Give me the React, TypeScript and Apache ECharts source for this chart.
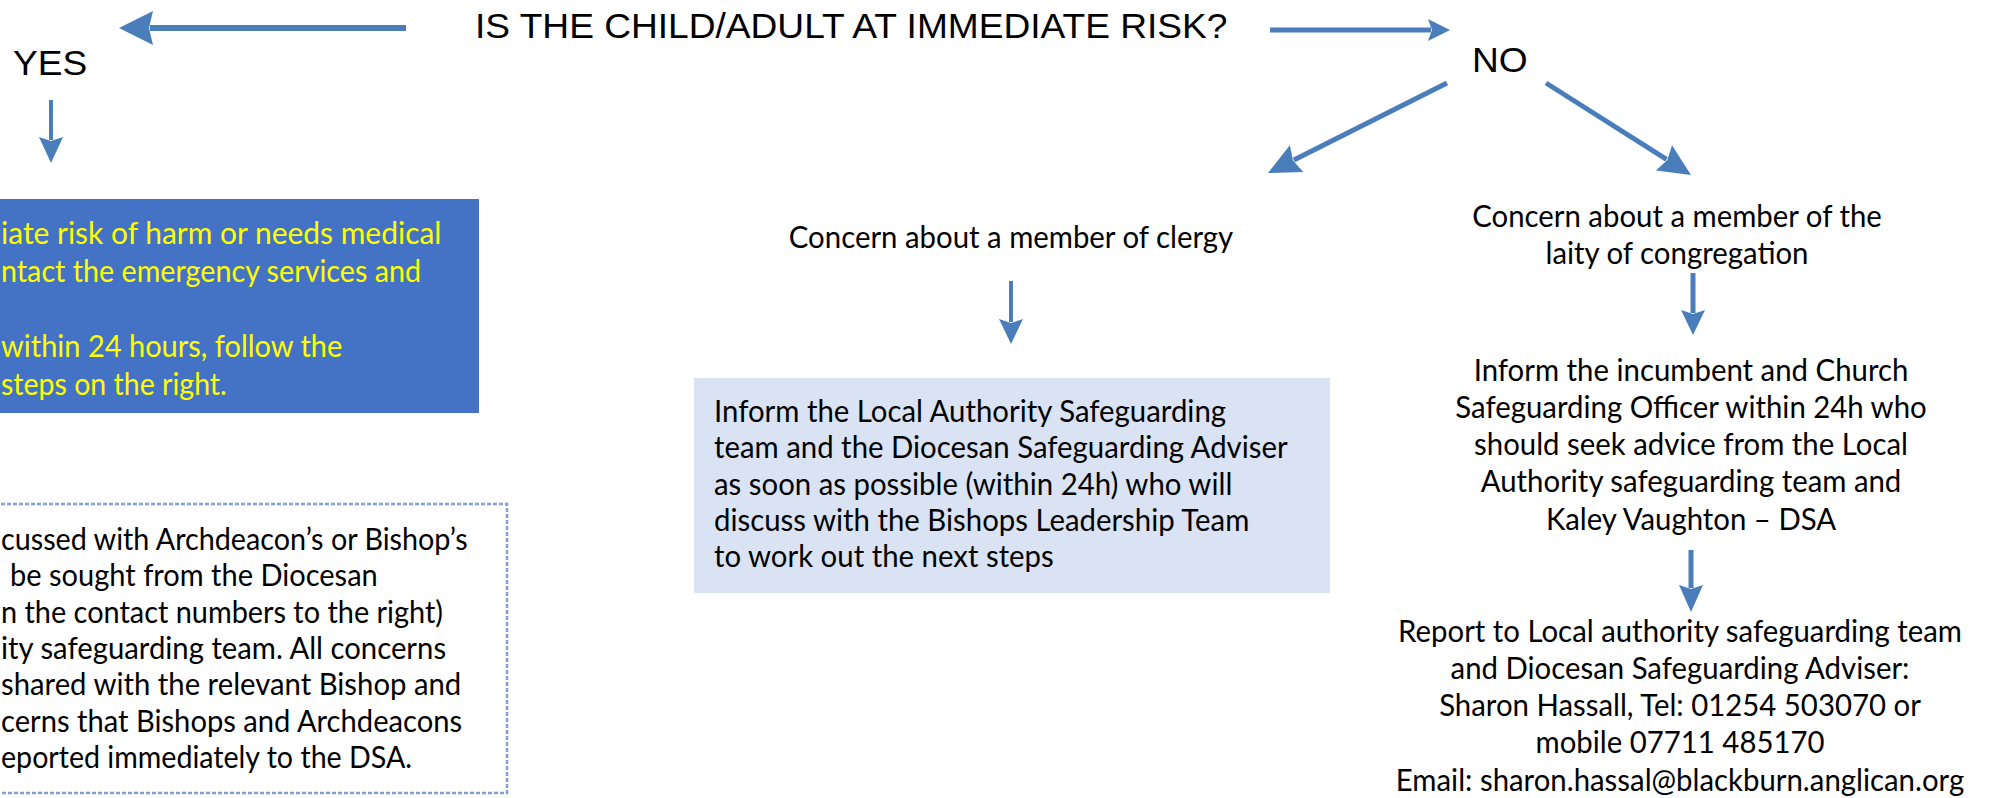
import React, { useEffect, useRef } from 'react';
import * as echarts from 'echarts';

// ---- Text content ----
const QUESTION = 'IS THE CHILD/ADULT AT IMMEDIATE RISK?';
const YES_LABEL = 'YES';
const NO_LABEL = 'NO';
const URGENT_LINES = [
  'iate risk of harm or needs medical',
  'ntact the emergency services and',
  '',
  'within 24 hours, follow the',
  'steps on the right.',
];
const ADVICE_LINES = [
  'cussed with Archdeacon’s or Bishop’s',
  'be sought from the Diocesan',
  'n the contact numbers to the right)',
  'ity safeguarding team. All concerns',
  'shared with the relevant Bishop and',
  'cerns that Bishops and Archdeacons',
  'eported immediately to the DSA.',
];
const CLERGY_TITLE = ['Concern about a member of clergy'];
const CLERGY_LINES = [
  'Inform the Local Authority Safeguarding',
  'team and the Diocesan Safeguarding Adviser',
  'as soon as possible (within 24h) who will',
  'discuss with the Bishops Leadership Team',
  'to work out the next steps',
];
const LAITY_TITLE = ['Concern about a member of the', 'laity of congregation'];
const LAITY_LINES = [
  'Inform the incumbent and Church',
  'Safeguarding Officer within 24h who',
  'should seek advice from the Local',
  'Authority safeguarding team and',
  'Kaley Vaughton – DSA',
];
const REPORT_LINES = [
  'Report to Local authority safeguarding team',
  'and Diocesan Safeguarding Adviser:',
  'Sharon Hassall, Tel: 01254 503070 or',
  'mobile 07711 485170',
  'Email: sharon.hassal@blackburn.anglican.org',
];

// ---- Styles ----
const ARROW = '#4A7EBB';
const BODY_FONT = '30px Lato';
const HEAD_FONT = '36px "Liberation Sans"';

function measure(text: string, font: string): number {
  const c = document.createElement('canvas').getContext('2d')!;
  c.font = font;
  return c.measureText(text).width;
}

function txt(text: string, x: number, y: number, align: string, font: string, fill: string, sx: number) {
  return {
    type: 'text',
    x,
    y,
    scaleX: sx,
    silent: true,
    style: {
      text,
      font,
      fill,
      align,
      verticalAlign: 'middle',
      textAlign: align,
      textVerticalAlign: 'middle',
    },
  };
}

function arrow(x1: number, y1: number, x2: number, y2: number, w: number, hl: number, hw: number) {
  const dx = x2 - x1;
  const dy = y2 - y1;
  const L = Math.hypot(dx, dy);
  const ux = dx / L;
  const uy = dy / L;
  const px = -uy;
  const py = ux;
  const bx = x2 - ux * hl;
  const by = y2 - uy * hl;
  return [
    {
      type: 'line',
      shape: { x1, y1, x2: bx + ux * 3, y2: by + uy * 3 },
      style: { stroke: ARROW, lineWidth: w },
    },
    {
      type: 'polygon',
      shape: {
        points: [
          [x2, y2],
          [bx + px * hw, by + py * hw],
          [bx + ux * 4, by + uy * 4],
          [bx - px * hw, by - py * hw],
        ],
      },
      style: { fill: ARROW },
    },
  ];
}

function buildOption() {
  const bodyScale = 565 / measure(REPORT_LINES[0], BODY_FONT);
  const headScale = 757 / measure(QUESTION, HEAD_FONT);

  const els: any[] = [];

  // boxes
  els.push({ type: 'rect', shape: { x: -5, y: 199, width: 484, height: 214 }, style: { fill: '#4472C4' } });
  els.push({ type: 'rect', shape: { x: 694, y: 378, width: 636, height: 215 }, style: { fill: '#DAE3F3' } });
  els.push({
    type: 'rect',
    shape: { x: -5, y: 504, width: 512, height: 289 },
    style: { fill: 'none', stroke: '#809FD4', lineWidth: 2.5, lineDash: [4, 2] },
  });

  // arrows
  els.push(...arrow(406, 28, 119, 28, 6, 34, 17));
  els.push(...arrow(1270, 30, 1450, 30, 5, 22, 11));
  els.push(...arrow(51, 100, 51, 163, 4, 26, 12));
  els.push(...arrow(1447, 83, 1268, 173, 5, 32, 15));
  els.push(...arrow(1546, 83, 1691, 175, 5, 32, 15));
  els.push(...arrow(1011, 281, 1011, 344, 4, 25, 12));
  els.push(...arrow(1693, 273, 1693, 335, 5, 25, 12));
  els.push(...arrow(1691, 550, 1691, 612, 5, 27, 12));

  // headings
  els.push(txt(QUESTION, 475, 26, 'left', HEAD_FONT, '#000', headScale));
  els.push(txt(YES_LABEL, 13, 63, 'left', HEAD_FONT, '#000', headScale));
  els.push(txt(NO_LABEL, 1472, 60, 'left', HEAD_FONT, '#000', headScale));

  // fragments clipped by the page's left edge: fit each between its left and right edge
  const fitLeft = (t: string, left: number, right: number, y: number, fill: string) => {
    const s = (right - left) / measure(t, BODY_FONT);
    els.push(txt(t, left, y, 'left', BODY_FONT, fill, s));
  };

  // urgent (blue box)
  const urgentLeft = [1, 1, 0, 1, 1];
  const urgentRight = [443, 422, 0, 343, 227];
  const urgentY = [232, 270, 308, 345, 383];
  URGENT_LINES.forEach((t, i) => {
    if (t) fitLeft(t, urgentLeft[i], urgentRight[i], urgentY[i], '#FFFF00');
  });

  // advice (dashed box)
  const adviceLeft = [1, 10, 1, 1, 1, 1, 1];
  const adviceRight = [470, 378, 443, 448, 462, 463, 413];
  const adviceY = [538, 574, 611, 647, 683, 720, 756];
  ADVICE_LINES.forEach((t, i) => fitLeft(t, adviceLeft[i], adviceRight[i], adviceY[i], '#000'));

  // clergy
  CLERGY_TITLE.forEach((t) => els.push(txt(t, 1011, 236, 'center', BODY_FONT, '#000', bodyScale)));
  const clergyY = [410, 446, 483, 519, 555];
  CLERGY_LINES.forEach((t, i) => els.push(txt(t, 714, clergyY[i], 'left', BODY_FONT, '#000', bodyScale)));

  // laity
  const laityTitleY = [215, 252];
  LAITY_TITLE.forEach((t, i) => els.push(txt(t, 1677, laityTitleY[i], 'center', BODY_FONT, '#000', bodyScale)));
  const laityY = [369, 406, 443, 480, 518];
  LAITY_LINES.forEach((t, i) => els.push(txt(t, 1691, laityY[i], 'center', BODY_FONT, '#000', bodyScale)));

  // report
  const reportY = [630, 667, 704, 741, 779];
  REPORT_LINES.forEach((t, i) => els.push(txt(t, 1680, reportY[i], 'center', BODY_FONT, '#000', bodyScale)));

  return {
    animation: false,
    backgroundColor: '#ffffff',
    graphic: { elements: els },
  };
}

export default function App() {
  const ref = useRef<HTMLDivElement>(null);
  useEffect(() => {
    const chart = echarts.init(ref.current!, null, { renderer: 'svg', width: 2000, height: 798 });
    chart.setOption(buildOption() as any);
    return () => chart.dispose();
  }, []);
  return (
    <div
      ref={ref}
      style={{ position: 'fixed', left: 0, top: 0, width: 2000, height: 798, background: '#fff' }}
    />
  );
}
